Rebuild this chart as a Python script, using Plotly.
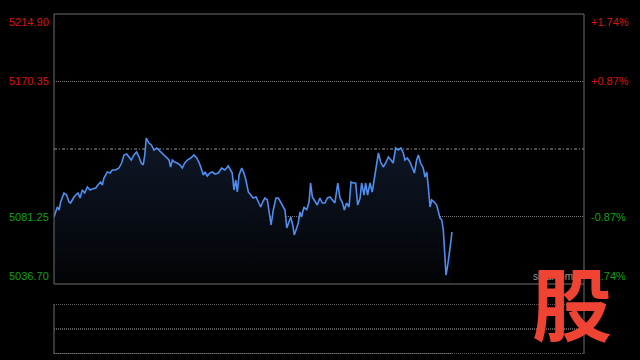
import plotly.graph_objects as go

# ---- data ----
prev_close = 5125.80
y_min, y_max = 5036.70, 5214.90
left_labels = ["5214.90", "5170.35", "5081.25", "5036.70"]
left_values = [5214.90, 5170.35, 5081.25, 5036.70]
right_labels = ["+1.74%", "+0.87%", "-0.87%", "-1.74%"]

# trading minutes since 9:30 (lunch break removed)
minutes = [0, 1.5, 2.3, 3.0, 4.5, 5.7, 6.8, 7.5, 8.8, 9.8, 10.9, 11.8, 12.8, 13.9, 15.1, 16.3,
           17.3, 18.9, 19.9, 21.1, 21.9, 22.6, 23.4, 24.1, 25.4, 26.4, 27.9, 29.4, 30.6, 31.7,
           32.9, 34.0, 35.0, 36.2, 37.4, 38.5, 39.5, 40.4, 41.1, 41.8, 43.0, 44.1, 45.3, 46.5,
           47.5, 48.6, 49.8, 51.0, 52.1, 52.8, 53.6, 54.6, 55.8, 57.1, 58.1, 59.2, 60.4, 61.9,
           63.4, 64.6, 65.8, 66.9, 67.6, 68.4, 69.4, 70.6, 71.7, 72.9, 74.4, 75.9, 77.4, 78.9,
           80.0, 80.7, 81.5, 82.3, 83.0, 83.8, 85.0, 86.0, 86.9, 88.0, 89.1, 90.2, 91.5, 92.5,
           93.6, 94.5, 95.5, 96.6, 97.5, 98.3, 99.3, 100.5, 101.6, 102.6, 103.8, 104.6, 105.4,
           106.4, 107.2, 108.1, 108.8, 109.9, 110.6, 111.4, 112.1, 113.2, 114.4, 115.5, 116.2,
           117.0, 118.2, 119.2, 120.4, 121.5, 122.7, 123.8, 125.0, 126.0, 127.2, 128.5, 129.5,
           130.5, 131.5, 132.5, 133.6, 134.5, 135.5, 136.6, 137.5, 138.6, 139.3, 140.4, 141.1,
           142.0, 143.1, 144.1, 145.0, 146.1, 146.9, 147.9, 149.1, 150.2, 151.4, 152.6, 153.6,
           154.7, 155.9, 157.1, 158.2, 158.9, 160.0, 161.2, 162.2, 163.2, 164.2, 165.0, 166.0,
           167.2, 168.0, 168.8, 169.5, 170.3, 171.0, 172.2, 173.3, 174.0, 174.8, 175.6, 176.3,
           177.1, 177.5, 178.3, 179.0, 179.8, 180.2]
prices = [5080.92, 5087.52, 5085.54, 5090.82, 5096.76, 5095.44, 5090.82, 5090.16, 5093.46, 5095.44,
          5096.76, 5093.46, 5098.74, 5096.76, 5100.72, 5098.74, 5099.40, 5100.06, 5102.04, 5104.02,
          5102.04, 5106.66, 5108.64, 5110.62, 5109.96, 5111.94, 5111.94, 5113.26, 5116.56, 5121.84,
          5122.50, 5120.52, 5118.54, 5121.84, 5123.82, 5120.52, 5116.56, 5115.24, 5121.84, 5133.06,
          5129.76, 5128.44, 5125.14, 5126.46, 5125.14, 5123.16, 5121.84, 5119.86, 5118.54, 5113.92,
          5118.54, 5117.22, 5116.56, 5115.24, 5113.26, 5116.56, 5118.54, 5119.86,
          5121.84, 5119.86, 5116.56, 5111.94, 5108.64, 5110.62, 5107.98, 5109.96, 5110.62, 5109.30,
          5109.96, 5113.26, 5111.94, 5114.58, 5111.94, 5109.96, 5098.74, 5105.34, 5097.42, 5108.64,
          5113.26, 5109.96, 5105.34, 5097.42, 5095.44, 5093.46, 5094.12, 5090.82, 5087.52, 5090.82,
          5093.46, 5092.14, 5084.22, 5075.64, 5085.54, 5093.46, 5093.46, 5090.82, 5087.52, 5085.54,
          5073.66, 5077.62, 5080.92, 5075.64, 5069.04, 5073.66, 5076.96, 5084.22, 5080.92, 5087.52,
          5085.54, 5090.82, 5103.36, 5094.12, 5090.82, 5088.84, 5093.46, 5090.16, 5090.16, 5093.46,
          5094.12, 5092.14, 5090.16, 5103.36, 5093.46, 5090.82, 5085.54, 5090.16, 5087.52, 5104.02,
          5103.36, 5103.36, 5088.84, 5093.46, 5103.36, 5095.44, 5103.36, 5095.44, 5103.36, 5097.42,
          5105.34, 5113.26, 5123.16, 5117.22, 5113.92, 5116.56, 5120.52, 5118.54, 5116.56, 5126.46,
          5125.14, 5126.46, 5123.16, 5118.54, 5119.86, 5117.22, 5113.92, 5109.96, 5118.54, 5121.84,
          5116.56, 5113.26, 5107.32, 5110.62, 5100.72, 5087.52, 5092.14, 5090.82, 5088.84, 5084.22,
          5080.26, 5078.94, 5072.34, 5052.54, 5042.64, 5049.24, 5059.14, 5065.74, 5071.02]
volume_baseline = [0] * len(minutes)

RED = "#d81414"
GREEN = "#12a012"
FRAME = "#6e6e6e"
GRID = "#7a7a7a"

XD = [54 / 640, 584 / 640]
YD_MAIN = [1 - 284 / 360, 1 - 14 / 360]
YD_VOL = [1 - 354 / 360, 1 - 304 / 360]

fig = go.Figure()
fig.add_trace(go.Scatter(
    x=minutes, y=prices, mode="lines",
    line=dict(color="#4f8ef0", width=1.6),
    fill="tozeroy",
    fillgradient=dict(type="vertical", start=y_min, stop=5135,
                      colorscale=[[0, "#020305"], [1, "#0f1828"]]),
    hoverinfo="skip", xaxis="x", yaxis="y"))
fig.add_trace(go.Scatter(
    x=minutes, y=volume_baseline, mode="lines",
    line=dict(color="#8a8a8a", width=1),
    hoverinfo="skip", xaxis="x2", yaxis="y2"))

axis_common = dict(showgrid=False, zeroline=False, showticklabels=False,
                   showline=False, ticks="", fixedrange=True)
fig.update_layout(
    width=640, height=360,
    margin=dict(l=0, r=0, t=0, b=0),
    paper_bgcolor="black", plot_bgcolor="black",
    showlegend=False,
    xaxis=dict(domain=XD, range=[0, 240], anchor="y", **axis_common),
    yaxis=dict(domain=YD_MAIN, range=[y_min, y_max], anchor="x", **axis_common),
    xaxis2=dict(domain=XD, range=[0, 240], anchor="y2", **axis_common),
    yaxis2=dict(domain=YD_VOL, range=[0, 2], anchor="x2", **axis_common),
)

shapes = []
for v in [left_values[1], left_values[2]]:
    shapes.append(dict(type="line", xref="x domain", yref="y", x0=0, x1=1, y0=v, y1=v,
                       line=dict(color=GRID, width=1, dash="1px,1px"), layer="below"))
shapes.append(dict(type="line", xref="x domain", yref="y", x0=0, x1=1, y0=prev_close, y1=prev_close,
                   line=dict(color="#9a9a9a", width=1, dash="3px,2px,1px,2px"), layer="below"))
shapes.append(dict(type="rect", xref="x domain", yref="y domain", x0=0, x1=1, y0=0, y1=1,
                   line=dict(color=FRAME, width=1), layer="above"))
for v in [0, 1, 2]:
    shapes.append(dict(type="line", xref="x2 domain", yref="y2", x0=0, x1=1, y0=v, y1=v,
                       line=dict(color=GRID, width=1.5, dash="1px,1px"), layer="below"))
shapes.append(dict(type="line", xref="x2 domain", yref="y2 domain", x0=0, x1=0, y0=0, y1=1,
                   line=dict(color=FRAME, width=1)))
shapes.append(dict(type="line", xref="paper", yref="paper", x0=XD[1], x1=XD[1],
                   y0=YD_VOL[0], y1=YD_MAIN[0], line=dict(color=FRAME, width=1)))
fig.update_layout(shapes=shapes)

ann = []
anchors = ["top", "middle", "middle", "bottom"]
colors = [RED, RED, GREEN, GREEN]
for lab, v, ya, c in zip(left_labels, left_values, anchors, colors):
    ann.append(dict(text=lab, xref="paper", yref="y", x=51 / 640, y=v, xanchor="right",
                    yanchor=ya, showarrow=False, font=dict(family="Liberation Sans, Arial", size=11, color=c)))
for lab, v, ya, c in zip(right_labels, left_values, anchors, colors):
    ann.append(dict(text=lab, xref="paper", yref="y", x=589 / 640, y=v, xanchor="left",
                    yanchor=ya, showarrow=False, font=dict(family="Liberation Sans, Arial", size=11, color=c)))
ann.append(dict(text="sina.com", xref="paper", yref="y", x=531 / 640, y=y_min, xanchor="left",
                yanchor="bottom", showarrow=False,
                font=dict(family="Liberation Sans, Arial", size=10, color="#9a9a9a")))
ann.append(dict(text="<b>股</b>", xref="paper", yref="paper", x=572 / 640, y=1 - 300 / 360,
                xanchor="center", yanchor="middle", showarrow=False,
                font=dict(family="Noto Sans CJK SC", size=80, color="#ef4433")))
fig.update_layout(annotations=ann)

fig.write_html("out.html")
